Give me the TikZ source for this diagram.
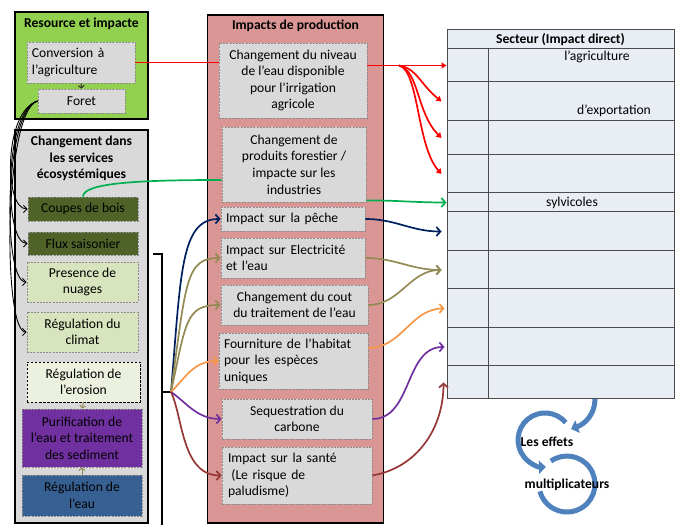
\documentclass[tikz,border=0pt]{standalone}
\usepackage{fontspec}
\setmainfont{Carlito}
\usepackage{tikz}
\usetikzlibrary{positioning,arrows.meta}

\definecolor{leafgreen}{HTML}{92D050}
\definecolor{boxgray}{HTML}{D9D9D9}
\definecolor{rosebox}{HTML}{DA9694}
\definecolor{olivedark}{HTML}{4F6228}
\definecolor{olivelight}{HTML}{D7E4BD}
\definecolor{olivepale}{HTML}{EBF1DE}
\definecolor{purplebox}{HTML}{7030A0}
\definecolor{bluebox}{HTML}{376092}
\definecolor{tablefill}{HTML}{E9EDF4}
\definecolor{arrred}{HTML}{FF0000}
\definecolor{arrgreen}{HTML}{00B050}
\definecolor{arrnavy}{HTML}{002060}
\definecolor{arrolive}{HTML}{948A54}
\definecolor{arrorange}{HTML}{F79646}
\definecolor{arrpurple}{HTML}{7030A0}
\definecolor{arrbrown}{HTML}{953735}
\definecolor{loopblue}{HTML}{4F81BD}

\newcommand{\diagfont}{\fontsize{13.6bp}{16.6bp}\selectfont}

\tikzset{
  panel/.style={draw=black, line width=1.3bp, inner sep=0pt},
  gbox/.style={draw=black!45, dash pattern=on 2bp off 1.2bp, line width=0.8bp, fill=boxgray, align=center, inner sep=2bp},
  heading/.style={font=\diagfont\bfseries, align=center},
  flow/.style={line width=1.7bp, -{Straight Barb[length=4bp,width=9bp]}},
  redflow/.style={draw=arrred, line width=1.7bp, -{Triangle[length=5bp,width=6bp]}},
  feed/.style={black, line width=0.9bp, -{Straight Barb[length=3.5bp,width=7bp]}},
  tiny/.style={line width=1bp, -{Straight Barb[length=2.5bp,width=6bp]}},
  cell/.style={draw=black!70, line width=1bp, fill=tablefill, inner sep=0pt},
  bracketline/.style={black, line width=1.6bp},
  effectloop/.style={draw=loopblue, line width=5bp}
}

\begin{document}
\begin{tikzpicture}[x=1bp,y=1bp,font=\diagfont]
\useasboundingbox (0,0) rectangle (680,525);

% ressources
\node[panel, fill=leafgreen, minimum width=133bp, minimum height=107bp] (res) at (81.5,459.5) {};
\node[heading, below=3bp of res.north] (restitle) {Resource et impacte};
\node[gbox, minimum width=108bp, minimum height=41bp, text width=98bp, align=left] (conv) at (81,462.5) {Conversion à\\l'agriculture};
\node[gbox, minimum width=87bp, minimum height=24bp] (foret) at (81.5,424) {Foret};

% services
\node[panel, fill=boxgray, minimum width=133bp, minimum height=393bp] (serv) at (81.5,198.5) {};
\node[heading, below=3bp of serv.north] (servtitle) {Changement dans\\les services\\écosystémiques};
\node[gbox, fill=olivedark, minimum width=110bp, minimum height=24bp] (coupes) at (83,316) {Coupes de bois};
\node[gbox, fill=olivedark, minimum width=110bp, minimum height=23bp] (flux) at (83,281.5) {Flux saisonier};
\node[gbox, fill=olivelight, minimum width=111bp, minimum height=40bp] (nuages) at (82.5,243) {Presence de\\nuages};
\node[gbox, fill=olivelight, minimum width=111bp, minimum height=40bp] (climat) at (82.5,193) {Régulation du\\climat};
\node[gbox, fill=olivepale, draw=black, dash pattern=on 2.5bp off 1.5bp, minimum width=113bp, minimum height=40bp] (erosion) at (83.5,143) {Régulation de\\l’erosion};
\node[gbox, fill=purplebox, minimum width=120bp, minimum height=58bp] (purif) at (82,87) {Purification de\\l’eau et traitement\\des sediment};
\node[gbox, fill=bluebox, minimum width=120bp, minimum height=41bp] (regeau) at (82,29.5) {Régulation de\\l’eau};

% production
\node[panel, fill=rosebox, minimum width=176bp, minimum height=508bp] (prod) at (295.5,256) {};
\node[heading, below=2bp of prod.north] (prodtitle) {Impacts de production};
\node[gbox, minimum width=148bp, minimum height=75bp] (niveau) at (293,444.5) {Changement du niveau\\de l’eau disponible\\pour l’irrigation\\agricole};
\node[gbox, minimum width=144bp, minimum height=75bp] (produits) at (294,360.5) {Changement de\\produits forestier /\\impacte sur les\\industries};
\node[gbox, minimum width=144bp, minimum height=24bp, text width=134bp, align=left] (peche) at (293,306) {Impact sur la pêche};
\node[gbox, minimum width=144bp, minimum height=40bp, text width=134bp, align=left] (elec) at (293,267) {Impact sur Electricité\\et l'eau};
\node[gbox, minimum width=147bp, minimum height=40bp] (cout) at (294.5,220) {Changement du cout\\du traitement de l’eau};
\node[gbox, minimum width=149bp, minimum height=56bp, text width=139bp, align=left] (habitat) at (293.5,164) {Fourniture de l'habitat\\pour les espèces\\uniques};
\node[gbox, minimum width=150bp, minimum height=40bp] (carbone) at (297,106) {Sequestration du\\carbone};
\node[gbox, minimum width=150bp, minimum height=57bp, text width=138bp, align=left] (sante) at (297,49.5) {Impact sur la santé\\\hspace*{0.25em}(Le risque de\\paludisme)};

% secteurs
\node[cell, font=\diagfont\bfseries, minimum width=227bp, minimum height=19bp] (sect) at (560.5,485.5) {Secteur (Impact direct)};
\foreach \t/\b [count=\i] in {476/443,443/404,404/370,370/332,332/313,313/274,274/236,236/197,197/159,159/126}{
  \node[cell, minimum width=41bp, minimum height={(\t-\b)*1bp}] (c\i) at (467.5,{(\t+\b)/2}) {};
  \node[cell, minimum width=186bp, minimum height={(\t-\b)*1bp}] (d\i) at (581,{(\t+\b)/2}) {};
}
\node (tagri) at (597,468) {l'agriculture};
\node (texport) at (614,414) {d'exportation};
\node (tsylvi) at (572,322) {sylvicoles};

% liens internes
\draw[tiny, black!80] (conv.south) -- (foret.north);
\draw[tiny, arrolive] (erosion.south) -- (purif.north);
\draw[tiny, arrolive] (regeau.north) -- (purif.south);
\foreach \t in {coupes,flux,nuages,climat}
  \draw[feed] (foret.west) .. controls +(-34,-10) and +(-24,0) .. (\t.west);

% accolade
\draw[bracketline] (153,271) -- (162,271) -- (162,0);
\coordinate (br) at (171,133);
\draw[bracketline] (162,133) -- (br);
\draw[flow, arrnavy] (br) .. controls +(10,120) and +(-40,0) .. (peche.west);
\draw[flow, arrolive] (br) .. controls +(15,110) and +(-35,0) .. (elec.west);
\draw[flow, arrolive] (br) .. controls +(15,70) and +(-35,0) .. (cout.west);
\draw[flow, arrorange] (br) .. controls +(15,15) and +(-25,0) .. (habitat.west);
\draw[flow, arrpurple] (br) .. controls +(15,-10) and +(-25,0) .. (carbone.west);
\draw[flow, arrbrown] (br) .. controls +(12,-25) and +(-40,0) .. (sante.west);

% vers la production
\draw[draw=arrred, line width=1.7bp] (conv.east) -- (niveau.west |- conv.east);
\draw[arrgreen, line width=1.7bp] (coupes.north) .. controls +(0,14) and +(-80,0) .. ([yshift=-15.5bp]produits.west);

% vers les secteurs
\draw[redflow] (niveau.east |- c1.west) -- coordinate[pos=0.4] (rsplit) (c1.west);
\draw[redflow] (rsplit) .. controls +(18,-3) and +(-22,18) .. ([xshift=-5bp]c2.west);
\draw[redflow] (rsplit) .. controls +(20,-5) and +(-25,25) .. ([xshift=-5bp]c3.west);
\draw[redflow] (rsplit) .. controls +(20,-5) and +(-25,28) .. ([xshift=-5bp]c4.west);
\draw[flow, arrgreen] ([yshift=2bp]produits.south east) to[out=0,in=180] (c5.west);
\draw[flow, arrnavy] (peche.east) to[out=0,in=180] ([xshift=-5bp]c6.west);
\draw[flow, arrolive] (elec.east) to[out=0,in=180] ([xshift=-5bp]c7.west);
\draw[flow, arrolive] (cout.east) to[out=0,in=180] ([xshift=-5bp]c7.west);
\draw[flow, arrorange] ([yshift=13bp]habitat.east) to[out=0,in=180] ([xshift=-2bp]c8.west);
\draw[flow, arrpurple] (carbone.east) to[out=0,in=180] ([xshift=-2bp]c9.west);
\draw[flow, arrbrown] (sante.east) to[out=10,in=-90] ([xshift=-3bp]c10.west);

% effets multiplicateurs
\draw[effectloop, -{Triangle[length=7bp,width=13bp]}] (595,126) to[out=-90,in=20] (571,96);
\draw[effectloop, -{Triangle[length=7bp,width=13bp]}] (565.7,102.4) arc[start angle=40, end angle=272, radius=27bp];
\draw[effectloop] (550.9,63.9) arc[start angle=125, end angle=-165, radius=28bp];
\node[font=\diagfont\bfseries] (leseffets) at (547,83) {Les effets};
\node[font=\diagfont\bfseries] (multi) at (567,40) {multiplicateurs};
\end{tikzpicture}
\end{document}
